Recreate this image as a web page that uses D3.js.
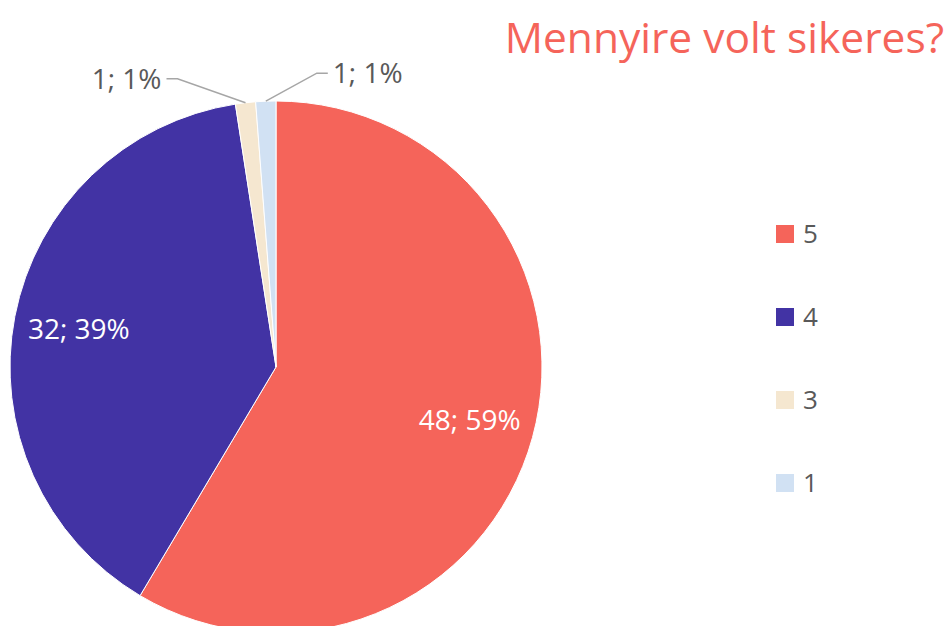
<!DOCTYPE html>
<html>
<head>
<meta charset="utf-8">
<script src="https://cdn.jsdelivr.net/npm/d3@7"></script>
<style>
  body { margin: 0; background: #fff; }
  text { font-family: "Open Sans", "Noto Sans", sans-serif; }
</style>
</head>
<body>
<div id="chart"></div>
<script>
// Chart values
let categories = ["5", "4", "3", "1"]
let counts = [48, 32, 1, 1]
let colors = ["#F5645A", "#4233A4", "#F5E7D0", "#D1E1F3"]
let titleText = "Mennyire volt sikeres?"

let width = 946
let height = 626
let radius = 266
let cx = 276, cy = 367

let svg = d3.select("#chart").append("svg")
    .attr("width", width)
    .attr("height", height)

let total = d3.sum(counts)
let data = categories.map((c, i) => ({ name: c, value: counts[i], color: colors[i] }))

let pie = d3.pie()
    .value(d => d.value)
    .sort(null)

let arc = d3.arc()
    .innerRadius(0)
    .outerRadius(radius)

let arcs = pie(data)

let g = svg.append("g")
    .attr("transform", "translate(" + cx + "," + cy + ")")

g.selectAll("path")
    .data(arcs)
    .enter().append("path")
    .attr("d", arc)
    .attr("fill", d => d.data.color)
    .attr("stroke", "#fff")
    .attr("stroke-width", 1)

function labelText(d) {
  return d.data.value + "; " + Math.round(d.data.value / total * 100) + "%"
}

// Big slices: label inside
let inner = d3.arc().innerRadius(radius * 0.755).outerRadius(radius * 0.755)
arcs.filter(d => d.endAngle - d.startAngle > 0.3).forEach(d => {
  let p = inner.centroid(d)
  g.append("text")
      .attr("x", p[0])
      .attr("y", p[1] + 10)
      .attr("text-anchor", "middle")
      .attr("fill", "#fff")
      .style("font-size", "28px")
      .text(labelText(d))
})

// Small slices: label outside with leader line, spread left / right
let small = arcs.filter(d => d.endAngle - d.startAngle <= 0.3)
small.forEach((d, i) => {
  let mid = (d.startAngle + d.endAngle) / 2
  let ax = Math.sin(mid) * radius
  let ay = -Math.cos(mid) * radius
  let left = i === 0
  let ex = left ? ax - 68 : ax + 51
  let ey = left ? ay - 24 : ay - 28
  let hx = left ? ex - 11 : ex + 11
  g.append("polyline")
      .attr("points", [[ax, ay], [ex, ey], [hx, ey]].map(p => p.join(",")).join(" "))
      .attr("fill", "none")
      .attr("stroke", "#A6A6A6")
      .attr("stroke-width", 1.5)
  g.append("text")
      .attr("x", left ? hx - 5 : hx + 5)
      .attr("y", ey + 10)
      .attr("text-anchor", left ? "end" : "start")
      .attr("fill", "#595959")
      .style("font-size", "28px")
      .text(labelText(d))
})

// Title
svg.append("text")
    .attr("x", 944)
    .attr("y", 53)
    .attr("text-anchor", "end")
    .attr("fill", "#F5645A")
    .style("font-size", "42.5px")
    .text(titleText)

// Legend
let legendY = d3.scalePoint()
    .domain(categories)
    .range([234, 483])

let legend = svg.selectAll(".legend")
    .data(data)
    .enter().append("g")
    .attr("class", "legend")
    .attr("transform", d => "translate(776," + legendY(d.name) + ")")

legend.append("rect")
    .attr("x", 0)
    .attr("y", -9)
    .attr("width", 18)
    .attr("height", 18)
    .attr("fill", d => d.color)

legend.append("text")
    .attr("x", 27)
    .attr("y", 9)
    .attr("fill", "#595959")
    .style("font-size", "26px")
    .text(d => d.name)
</script>
</body>
</html>
